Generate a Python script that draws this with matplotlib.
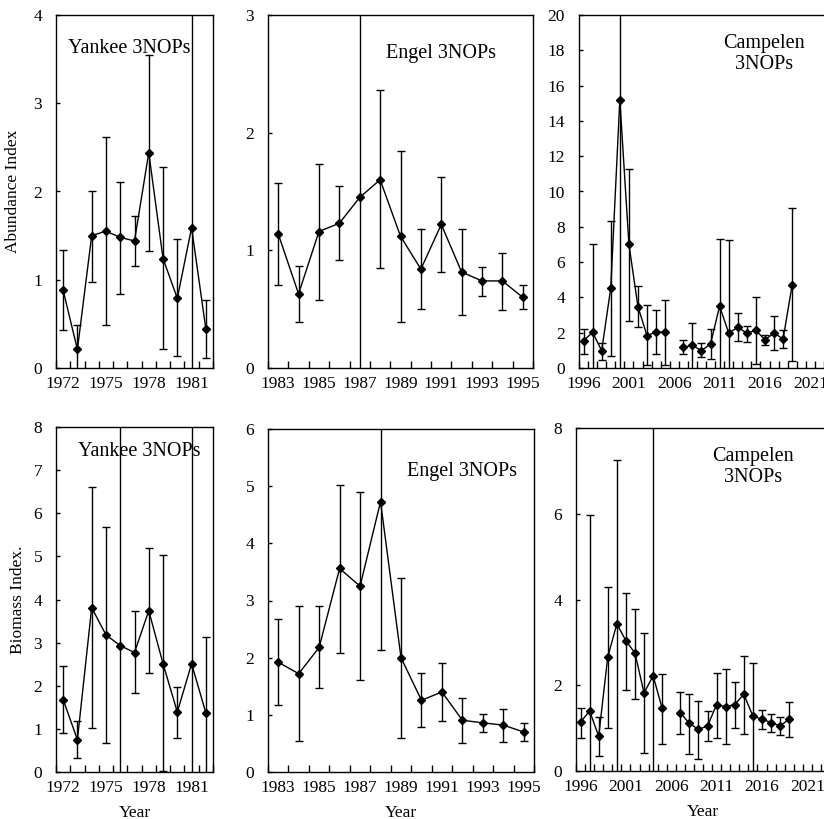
import numpy as np
import matplotlib
matplotlib.use("Agg")
import matplotlib.pyplot as plt
from matplotlib.ticker import MultipleLocator, FixedLocator

plt.rcParams['font.family'] = ['Liberation Serif', 'DejaVu Serif']
plt.rcParams['font.size'] = 12.5

nan = np.nan

# Yankee 3NOPs, 1972-1982
yankee_years = list(range(1972, 1983))
yankee_abund = [0.88, 0.21, 1.50, 1.55, 1.48, 1.44, 2.44, 1.24, 0.79, 1.59, 0.44]
yankee_abund_lo = [0.43, -0.2, 0.98, 0.49, 0.84, 1.16, 1.33, 0.21, 0.14, -0.5, 0.11]
yankee_abund_hi = [1.34, 0.49, 2.01, 2.62, 2.11, 1.72, 3.55, 2.28, 1.46, 4.5, 0.77]
yankee_bio = [1.68, 0.75, 3.81, 3.18, 2.93, 2.77, 3.74, 2.51, 1.39, 2.51, 1.37]
yankee_bio_lo = [0.91, 0.33, 1.02, 0.67, -0.5, 1.84, 2.30, 0.02, 0.80, -0.5, -0.3]
yankee_bio_hi = [2.46, 1.19, 6.60, 5.69, 8.5, 3.73, 5.20, 5.03, 1.98, 8.5, 3.14]

# Engel 3NOPs, 1983-1995
engel_years = list(range(1983, 1996))
engel_abund = [1.14, 0.63, 1.16, 1.23, 1.45, 1.60, 1.12, 0.84, 1.22, 0.815, 0.74, 0.74, 0.60]
engel_abund_lo = [0.705, 0.39, 0.58, 0.915, -0.2, 0.85, 0.39, 0.50, 0.82, 0.45, 0.615, 0.49, 0.50]
engel_abund_hi = [1.57, 0.87, 1.73, 1.55, 3.2, 2.36, 1.84, 1.18, 1.62, 1.18, 0.86, 0.98, 0.705]
engel_bio = [1.92, 1.72, 2.18, 3.56, 3.25, 4.73, 2.00, 1.255, 1.40, 0.905, 0.86, 0.82, 0.70]
engel_bio_lo = [1.17, 0.54, 1.47, 2.09, 1.61, 2.13, 0.60, 0.78, 0.89, 0.51, 0.70, 0.52, 0.54]
engel_bio_hi = [2.68, 2.91, 2.90, 5.02, 4.89, 6.5, 3.39, 1.73, 1.91, 1.30, 1.02, 1.11, 0.86]

# Campelen 3NOPs, 1996-2019 (no survey 2006)
camp_years = list(range(1996, 2020))
camp_abund = [1.55, 2.02, 0.98, 4.53, 15.2, 7.02, 3.47, 1.83, 2.04, 2.02, nan, 1.17,
              1.28, 0.98, 1.36, 3.51, 1.98, 2.30, 1.98, 2.13, 1.60, 1.98, 1.64, 4.72]
camp_abund_lo = [0.81, -0.5, 0.47, 0.70, -1.0, 2.68, 2.34, 0.19, 0.79, 0.19, nan, 0.79,
                 -0.3, 0.60, 0.53, -0.5, -0.5, 1.51, 1.47, 0.23, 1.32, 1.04, 1.13, 0.38]
camp_abund_hi = [2.2, 7.02, 1.42, 8.34, 24.0, 11.3, 4.62, 3.58, 3.26, 3.83, nan, 1.57,
                 2.55, 1.42, 2.2, 7.32, 7.23, 3.11, 2.40, 4.02, 1.89, 2.92, 2.17, 9.06]
camp_bio = [1.14, 1.40, 0.81, 2.66, 3.43, 3.04, 2.75, 1.82, 2.22, 1.46, nan, 1.36,
            1.11, 0.97, 1.05, 1.55, 1.50, 1.55, 1.79, 1.28, 1.21, 1.13, 1.05, 1.21]
camp_bio_lo = [0.77, -0.3, 0.36, 1.01, -0.3, 1.90, 1.69, 0.43, -0.5, 0.64, nan, 0.87,
               0.40, 0.29, 0.70, 0.77, 0.64, 1.00, 0.87, 0.01, 0.97, 0.90, 0.83, 0.79]
camp_bio_hi = [1.48, 5.97, 1.26, 4.30, 7.26, 4.15, 3.79, 3.22, 8.5, 2.27, nan, 1.85,
               1.79, 1.64, 1.40, 2.29, 2.37, 2.08, 2.69, 2.52, 1.43, 1.34, 1.26, 1.61]

W, H = 824, 819
fig = plt.figure(figsize=(W / 100, H / 100), dpi=100)


def px_axes(left, top, width, height):
    return fig.add_axes([left / W, (H - top - height) / H, width / W, height / H])


def panel(ax, years, vals, lo, hi, xlim, xlabels, ymax, ystep, label, lx, ly):
    vals = np.array(vals, dtype=float)
    err = [vals - np.array(lo, dtype=float), np.array(hi, dtype=float) - vals]
    ax.errorbar(years, vals, yerr=err, color='black', lw=1.0, elinewidth=1.0,
                capsize=2.6, capthick=1.0, marker='D', markersize=4.5,
                markerfacecolor='black', markeredgecolor='black')
    ax.set_xlim(*xlim)
    ax.set_ylim(0, ymax)
    ax.xaxis.set_major_locator(FixedLocator(xlabels))
    ax.set_xticklabels([str(v) for v in xlabels])
    ax.xaxis.set_minor_locator(MultipleLocator(1, offset=0.5))
    ax.tick_params(axis='x', which='major', length=0, pad=6)
    ax.tick_params(axis='x', which='minor', direction='in', length=5, width=1)
    ax.yaxis.set_major_locator(MultipleLocator(ystep))
    ax.tick_params(axis='y', direction='in', length=3, width=1, pad=10)
    for s in ax.spines.values():
        s.set_linewidth(1.0)
    ax.text(lx, ly, label, transform=ax.transAxes, ha='center', va='center',
            fontsize=14.5, linespacing=1.1)


ax1 = px_axes(56, 15, 157, 353)
panel(ax1, yankee_years, yankee_abund, yankee_abund_lo, yankee_abund_hi,
      (1971.5, 1982.5), [1972, 1975, 1978, 1981], 4, 1, 'Yankee 3NOPs', 0.465, 0.906)
ax1.set_ylabel('Abundance Index')
ax1.yaxis.set_label_coords(-0.22, 0.5)

ax2 = px_axes(268, 15, 265, 353)
panel(ax2, engel_years, engel_abund, engel_abund_lo, engel_abund_hi,
      (1982.5, 1995.5), list(range(1983, 1996, 2)), 3, 1, 'Engel 3NOPs', 0.653, 0.892)

ax3 = px_axes(579, 15, 254, 353)
panel(ax3, camp_years, camp_abund, camp_abund_lo, camp_abund_hi,
      (1995.5, 2023.5), list(range(1996, 2022, 5)), 20, 2, 'Campelen\n3NOPs', 0.728, 0.89)

ax4 = px_axes(56, 427, 157, 345)
panel(ax4, yankee_years, yankee_bio, yankee_bio_lo, yankee_bio_hi,
      (1971.5, 1982.5), [1972, 1975, 1978, 1981], 8, 1, 'Yankee 3NOPs', 0.53, 0.928)
ax4.set_ylabel('Biomass Index.')
ax4.yaxis.set_label_coords(-0.19, 0.5)

ax5 = px_axes(268, 429, 266, 343)
panel(ax5, engel_years, engel_bio, engel_bio_lo, engel_bio_hi,
      (1982.5, 1995.5), list(range(1983, 1996, 2)), 6, 1, 'Engel 3NOPs', 0.73, 0.875)

ax6 = px_axes(576, 428, 254, 343)
panel(ax6, camp_years, camp_bio, camp_bio_lo, camp_bio_hi,
      (1995.5, 2023.5), list(range(1996, 2022, 5)), 8, 2, 'Campelen\n3NOPs', 0.697, 0.886)

for ax in (ax4, ax5, ax6):
    ax.set_xlabel('Year', labelpad=6)

fig.savefig('out.png', dpi=100)
